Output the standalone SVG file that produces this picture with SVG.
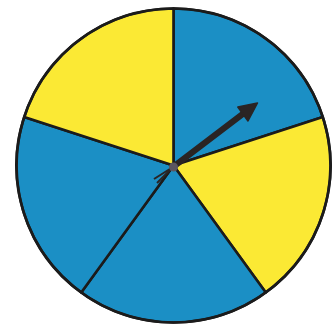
<svg xmlns="http://www.w3.org/2000/svg" width="334" height="324" viewBox="0 0 334 324">
<style>
.s{stroke:#1b1b1b;stroke-width:2.6;stroke-linejoin:round}
.b{fill:#1b8fc5}
.y{fill:#fbe934}
</style>
<rect width="334" height="324" fill="#ffffff"/>
<g id="spinner">
<path class="s b" d="M173.5,165.5 L173.5,8.5 A157,157 0 0 1 322.82,116.98 Z"/>
<path class="s y" d="M173.5,165.5 L322.82,116.98 A157,157 0 0 1 265.78,292.52 Z"/>
<path class="s b" d="M173.5,165.5 L265.78,292.52 A157,157 0 0 1 81.22,292.52 Z"/>
<path class="s b" d="M173.5,165.5 L81.22,292.52 A157,157 0 0 1 24.18,116.98 Z"/>
<path class="s y" d="M173.5,165.5 L24.18,116.98 A157,157 0 0 1 173.5,8.5 Z"/>
<circle cx="173.5" cy="165.5" r="157" fill="none" stroke="#1b1b1b" stroke-width="2.6"/>
</g>
<g id="pointer">
<line x1="173" y1="167" x2="246" y2="111.5" stroke="#2a2424" stroke-width="6" stroke-linecap="round"/>
<polygon points="257.5,103 248,121 237.8,107" fill="#2a2424" stroke="#2a2424" stroke-width="1.5" stroke-linejoin="round"/>
<line x1="173" y1="167" x2="154" y2="179" stroke="#2a2424" stroke-width="2"/>
<line x1="173" y1="167" x2="157" y2="183" stroke="#2a2424" stroke-width="2"/>
<circle cx="173.5" cy="167" r="4.5" fill="#5a5560"/>
</g>
</svg>
